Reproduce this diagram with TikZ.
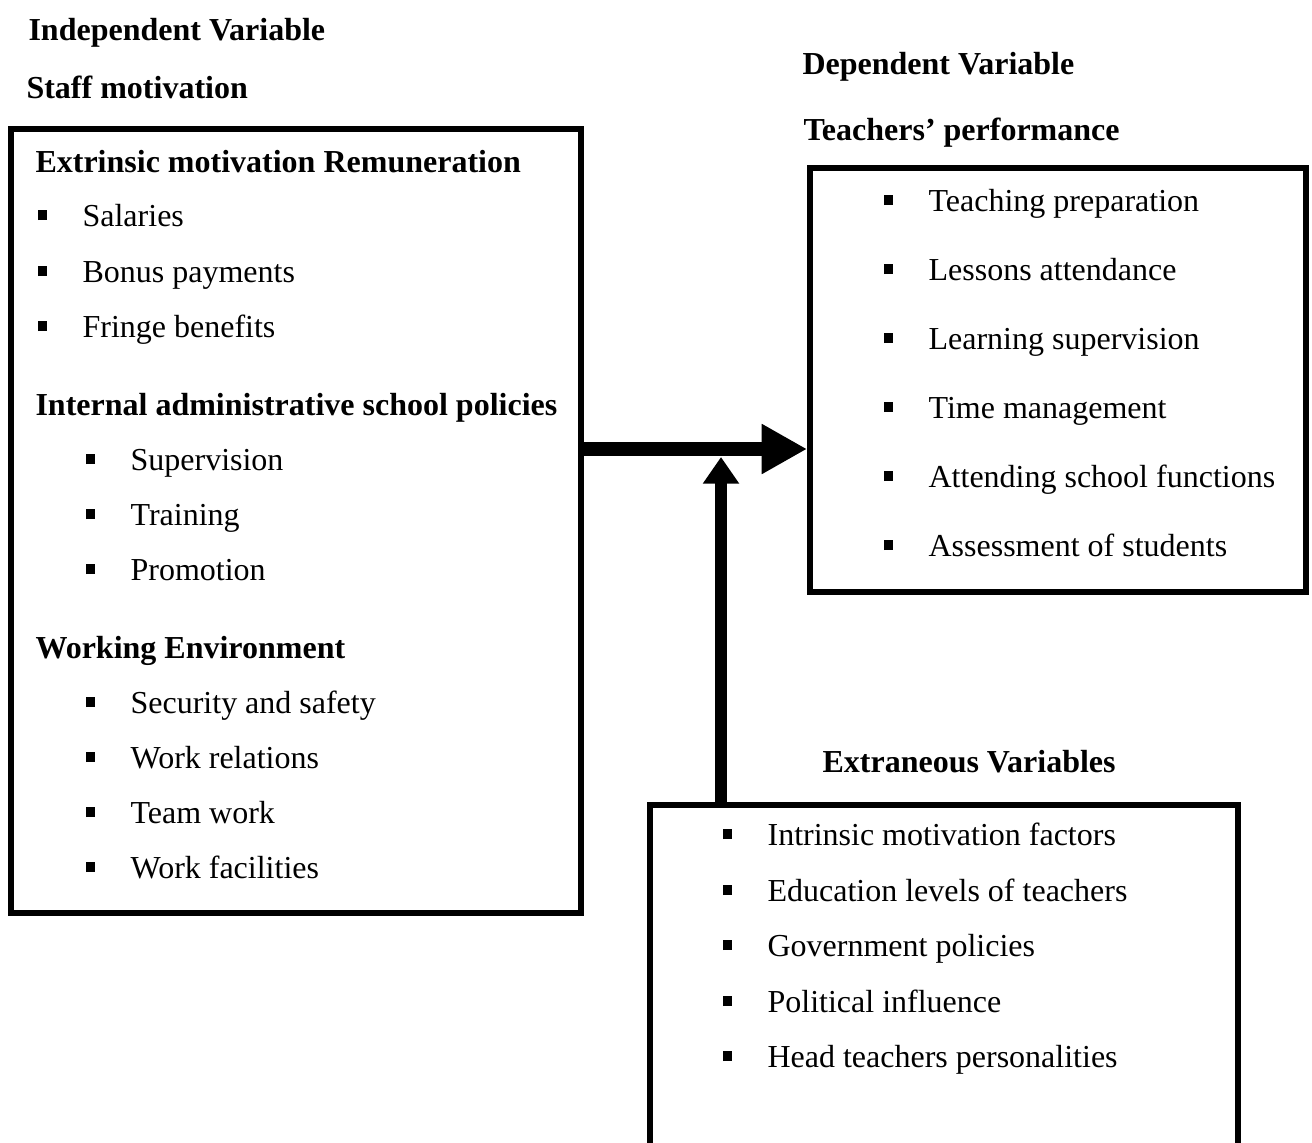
\documentclass[tikz,border=0pt]{standalone}
\usepackage{fontspec}
\setmainfont{Liberation Serif}
\usetikzlibrary{arrows.meta}
\usetikzlibrary{fit}

% text size used throughout
\newcommand{\diagsize}{\fontsize{12pt}{14pt}\selectfont}
% small square bullet in front of each list entry
\newcommand{\sqbullet}{\makebox[16.9pt][l]{\rule[2.25pt]{3.4pt}{3.75pt}}}

\tikzstyle{varbox} = [draw, line width=2.2pt, inner sep=0pt]
\tikzstyle{heading} = [anchor=base west, inner sep=0pt, font=\diagsize\bfseries]
\tikzstyle{listitem} = [anchor=base west, inner sep=0pt, font=\diagsize, execute at begin node=\sqbullet]
\tikzstyle{mainarrow} = [line width=5.6pt, -{Triangle[length=17pt,width=17.6pt]}]
\tikzstyle{sidearrow} = [line width=4.5pt, -{Triangle[length=10pt,width=13pt]}]

\begin{document}
\begin{tikzpicture}[x=0.375pt, y=-0.375pt]
\path[use as bounding box, clip] (0,0) rectangle (1312,1142);

% titles above the boxes
\node[heading] (indeptitle) at (28,40) {Independent Variable};
\node[heading] (indepname) at (26,98) {Staff motivation};
\node[heading] (deptitle) at (802,74) {Dependent Variable};
\node[heading] (depname) at (803,140) {Teachers’ performance};
\node[heading] (extratitle) at (822,772) {Extraneous Variables};

% the three boxes
\node[varbox, fit={(11,129) (581,913)}] (indep) {};
\node[varbox, fit={(810,168) (1306,592)}] (dep) {};
\node[varbox, fit={(650,805) (1238,1170)}] (extra) {};

% independent variable
\node[heading] (extrinsic) at (35,172) {Extrinsic motivation Remuneration};
\foreach \y/\t [count=\i] in {226/Salaries, 282/Bonus payments, 337/Fringe benefits}
  \node[listitem] (pay\i) at (37,\y) {\t};
\node[heading] (policies) at (35,415) {Internal administrative school policies};
\foreach \y/\t [count=\i] in {470/Supervision, 525/Training, 580/Promotion}
  \node[listitem] (pol\i) at (85,\y) {\t};
\node[heading] (environment) at (35,658) {Working Environment};
\foreach \y/\t [count=\i] in {713/Security and safety, 768/Work relations,
    823/Team work, 878/Work facilities}
  \node[listitem] (env\i) at (85,\y) {\t};

% dependent variable
\foreach \y/\t [count=\i] in {211/Teaching preparation, 280/Lessons attendance,
    349/Learning supervision, 418/Time management,
    487/Attending school functions, 556/Assessment of students}
  \node[listitem] (perf\i) at (883,\y) {\t};

% extraneous variables
\foreach \y/\t [count=\i] in {845/Intrinsic motivation factors,
    901/Education levels of teachers, 956/Government policies,
    1012/Political influence, 1067/Head teachers personalities}
  \node[listitem] (ext\i) at (722,\y) {\t};

% arrows
\coordinate (meet) at (721,457);
\draw[mainarrow] (indep.east |- 0,449) -- (dep.west |- 0,449);
\draw[sidearrow] (extra.north -| meet) -- (meet);
\end{tikzpicture}
\end{document}
